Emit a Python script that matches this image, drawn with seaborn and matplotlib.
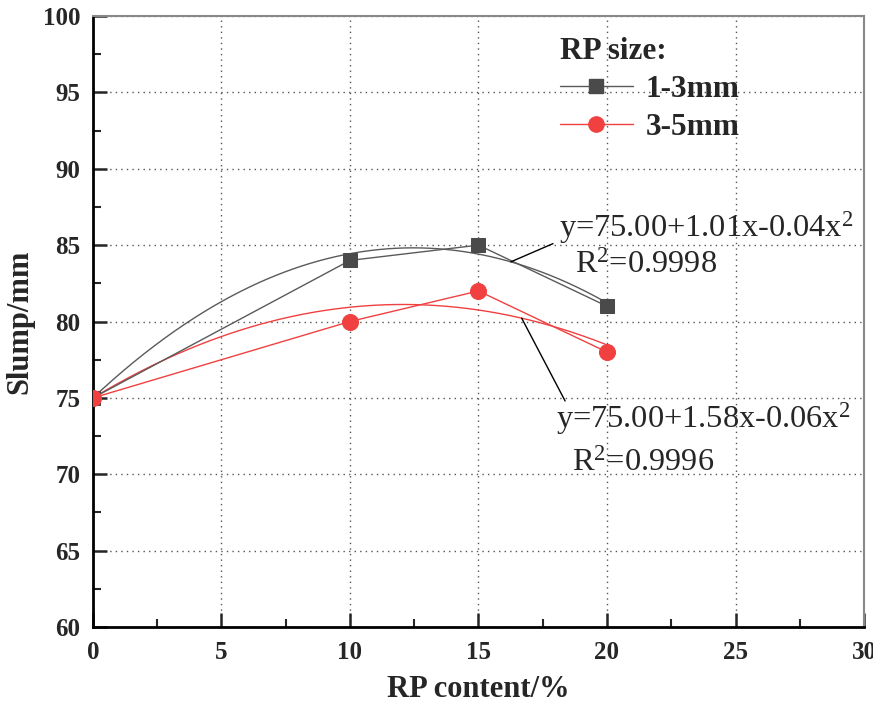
import numpy as np
import pandas as pd
import seaborn as sns
import matplotlib
matplotlib.use("Agg")
import matplotlib.pyplot as plt
from matplotlib.ticker import MultipleLocator
from matplotlib.lines import Line2D

# ---------------- data ----------------
content = [0, 10, 15, 20]                 # RP content / %
slump_1_3 = [75, 84, 85, 81]              # RP size 1-3mm
slump_3_5 = [75, 80, 82, 78]              # RP size 3-5mm
series_names = ["1-3mm", "3-5mm"]
legend_title = "RP size:"
eq_top = ["y=75.00+1.01x-0.04x$^{\\mathrm{2}}$", "R$^{\\mathrm{2}}$=0.9998"]
eq_bottom = ["y=75.00+1.58x-0.06x$^{\\mathrm{2}}$", "R$^{\\mathrm{2}}$=0.9996"]
x_label = "RP content/%"
y_label = "Slump/mm"

# ---------------- style ----------------
sns.set_theme(style="white")
plt.rcParams["font.family"] = ["Liberation Serif", "DejaVu Serif"]
plt.rcParams["mathtext.fontset"] = "custom"
plt.rcParams["mathtext.rm"] = "Liberation Serif"
plt.rcParams["mathtext.it"] = "Liberation Serif:italic"

c_black = "#4a4a4a"
c_black_line = "#5a5a5a"
c_red = "#f04040"

fig = plt.figure(figsize=(8.73, 7.12), dpi=100)
ax = fig.add_axes([0.1065, 0.1194, 0.8832, 0.8581])

df = pd.DataFrame({
    "content": content * 2,
    "slump": slump_1_3 + slump_3_5,
    "size": [series_names[0]] * len(content) + [series_names[1]] * len(content),
})

# quadratic fits with intercept fixed at first value
def fit_curve(x, y):
    x = np.asarray(x, float)
    y = np.asarray(y, float)
    y0 = y[0]
    A = np.column_stack([x, x ** 2])
    coef, *_ = np.linalg.lstsq(A, y - y0, rcond=None)
    xs = np.linspace(x.min(), x.max(), 300)
    return xs, y0 + coef[0] * xs + coef[1] * xs ** 2

xs1, ys1 = fit_curve(content, slump_1_3)
xs2, ys2 = fit_curve(content, slump_3_5)

sns.lineplot(x=xs1, y=ys1, ax=ax, color=c_black_line, lw=1.0, zorder=3)
sns.lineplot(x=xs2, y=ys2, ax=ax, color=c_red, lw=1.0, zorder=3)

sns.lineplot(data=df[df["size"] == series_names[0]], x="content", y="slump",
             ax=ax, color=c_black_line, lw=1.0, marker="s", markersize=10,
             markeredgecolor=c_black, markerfacecolor=c_black, zorder=4)
sns.lineplot(data=df[df["size"] == series_names[1]], x="content", y="slump",
             ax=ax, color=c_red, lw=1.0, marker="o", markersize=11.5,
             markeredgecolor=c_red, markerfacecolor=c_red, zorder=4)

# ---------------- axes ----------------
ax.set_xlim(0, 30)
ax.set_ylim(60, 100)
ax.xaxis.set_major_locator(MultipleLocator(5))
ax.xaxis.set_minor_locator(MultipleLocator(2.5))
ax.yaxis.set_major_locator(MultipleLocator(5))
ax.yaxis.set_minor_locator(MultipleLocator(2.5))
ax.tick_params(axis="both", which="major", direction="in", length=10, width=1.8,
               labelsize=18, bottom=True, left=True, top=False, right=False)
ax.tick_params(axis="x", which="major", pad=10)
ax.tick_params(axis="y", which="major", pad=9)
ax.tick_params(axis="both", which="minor", direction="in", length=6, width=1.5,
               bottom=True, left=True, top=False, right=False)
for lab in ax.get_xticklabels() + ax.get_yticklabels():
    lab.set_fontweight("bold")

ax.grid(True, which="major", linestyle=(0, (1, 3)), color="#555555", lw=1.0)
ax.set_axisbelow(True)

for s in ["left", "bottom"]:
    ax.spines[s].set_color("black")
    ax.spines[s].set_linewidth(2.0)
for s in ["top", "right"]:
    ax.spines[s].set_color("#888888")
    ax.spines[s].set_linewidth(1.5)

ax.set_xlabel(x_label, fontsize=22, fontweight="bold", labelpad=8)
ax.set_ylabel(y_label, fontsize=22, fontweight="bold", labelpad=6)

# ---------------- annotations ----------------
fs_eq = 23.3
ax.text(18.13, 85.55, eq_top[0], fontsize=fs_eq, ha="left", va="baseline", zorder=5)
ax.text(18.75, 83.2, eq_top[1], fontsize=fs_eq, ha="left", va="baseline", zorder=5)
ax.text(18.0, 73.07, eq_bottom[0], fontsize=fs_eq, ha="left", va="baseline", zorder=5)
ax.text(18.64, 70.2, eq_bottom[1], fontsize=fs_eq, ha="left", va="baseline", zorder=5)

px1 = 16.26
py1 = np.interp(px1, xs1, ys1)
ax.plot([17.9, px1], [85.1, py1], color="black", lw=1.0, zorder=5)
px2 = 16.68
py2 = np.interp(px2, xs2, ys2)
ax.plot([18.37, px2], [74.8, py2], color="black", lw=1.0, zorder=5)

# ---------------- legend ----------------
handles = [
    Line2D([], [], color=c_black_line, lw=1.0, marker="s", markersize=9.5,
           markerfacecolor=c_black, markeredgecolor=c_black),
    Line2D([], [], color=c_red, lw=1.0, marker="o", markersize=11,
           markerfacecolor=c_red, markeredgecolor=c_red),
]
leg = ax.legend(handles, series_names, title=legend_title, loc="upper left",
                bbox_to_anchor=(0.581, 0.997), frameon=False,
                prop={"size": 22.5, "weight": "bold"}, handlelength=2.35,
                handletextpad=0.4, labelspacing=0.3, borderaxespad=0.2)
leg.get_title().set_fontsize(22.5)
leg.get_title().set_fontweight("bold")
leg._legend_box.align = "left"

fig.savefig("out.png", dpi=100)
